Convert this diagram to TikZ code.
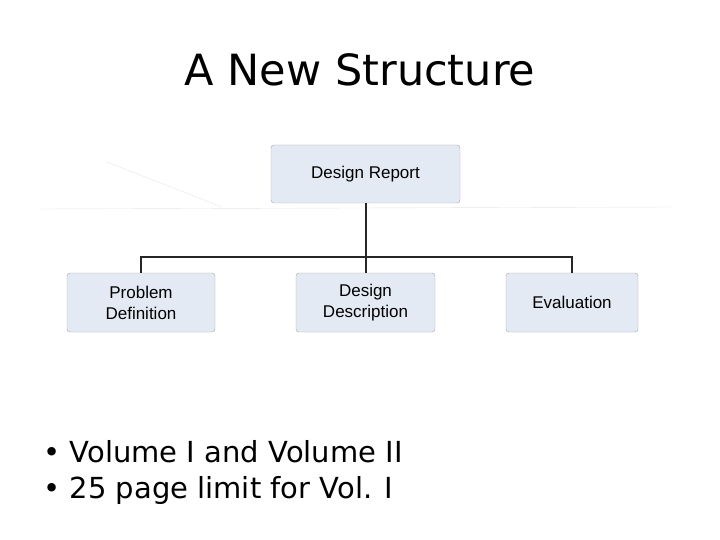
\documentclass[tikz,border=0pt]{standalone}
\usepackage{fontspec}
\setmainfont{DejaVu Sans}
\newfontfamily\arial{Liberation Sans}
\definecolor{boxfill}{RGB}{228,234,244}
\begin{document}
\begin{tikzpicture}[x=1pt,y=-1pt,
  box/.style={draw=gray!70,fill=boxfill,rounded corners=3pt,inner sep=0pt,align=center,font=\arial\fontsize{17}{21}\selectfont},
  conn/.style={line width=2pt,black!85}]
\useasboundingbox (0,0) rectangle (720,540);
\draw[gray!20] (40,209) -- (672,207);
\draw[gray!20] (107,162) -- (222,207);
\node[font=\fontsize{43}{50}\selectfont] (title) at (360,70) {A New Structure};
\node[box,minimum width=189pt,minimum height=58pt] (dr) at (365.5,174) {Design Report};
\node[box,minimum width=148pt,minimum height=59pt] (pd) at (141,302.5) {Problem\\Definition};
\node[box,minimum width=139pt,minimum height=59pt] (dd) at (365.5,302.5) {Design\\Description};
\node[box,minimum width=132pt,minimum height=59pt] (ev) at (572,302.5) {Evaluation};
\draw[conn] (dr.south) -- (dd.north);
\draw[conn] (pd.north) |- (365.5,257) -| (ev.north);
\node[anchor=west,font=\fontsize{29}{34}\selectfont] (b1) at (40,452) {\textbullet\ Volume I and Volume II};
\node[anchor=west,font=\fontsize{29}{34}\selectfont] (b2) at (40,490) {\textbullet\ 25 page limit for Vol. I};
\end{tikzpicture}
\end{document}
